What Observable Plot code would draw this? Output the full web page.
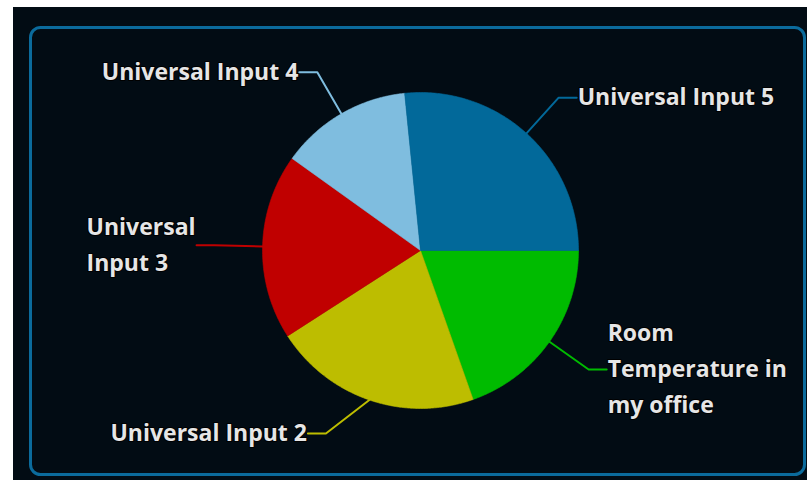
<!DOCTYPE html>
<html><head><meta charset="utf-8">
<script src="https://cdn.jsdelivr.net/npm/d3@7"></script>
<script src="https://cdn.jsdelivr.net/npm/@observablehq/plot@0.6"></script>
<style>
html,body{margin:0;padding:0;background:#fff;}
#wrap{position:relative;width:807px;height:480px;overflow:hidden;}
#panel{position:absolute;left:13px;top:7px;right:0;bottom:0;background:#020c14;}
#chart{position:absolute;left:0;top:0;}
</style></head><body>
<div id="wrap"><div id="panel"></div><div id="chart"></div></div>
<script>
// ---- data ----
const categories = ["Room Temperature in my office", "Universal Input 2", "Universal Input 3", "Universal Input 4", "Universal Input 5"];
const values = [19.6, 21.3, 19.0, 13.5, 26.6];
const labelTexts = ["Room\nTemperature in\nmy office", "Universal Input 2", "Universal\nInput 3", "Universal Input 4", "Universal Input 5"];
const colors = ["#00bb00", "#bdbd00", "#c00000", "#7fbddf", "#02699a"];

// ---- layout ----
const W = 807, H = 480, cx = 420, cy = 250, r = 158;
const mL = 30, mT = 27, mR = 3, mB = 6;
const toX = px => (px - cx) / r;
const toY = py => (cy - py) / r;
const fontSize = 23, fontWeight = 700, fontFamily = "'Open Sans', sans-serif";

const arcs = d3.pie().sort(null).value(d => d)
  .startAngle(Math.PI / 2).endAngle(Math.PI / 2 + 2 * Math.PI)(values);

const slices = [];
arcs.forEach((a, i) => {
  const name = categories[i];
  slices.push({name, x: 0, y: 0});
  const n = Math.max(2, Math.ceil((a.endAngle - a.startAngle) / 0.01));
  for (let k = 0; k <= n; k++) {
    const t = a.startAngle + (a.endAngle - a.startAngle) * k / n;
    slices.push({name, x: Math.sin(t), y: Math.cos(t)});
  }
  slices.push({name, x: 0, y: 0});
});

const ctx = document.createElement("canvas").getContext("2d");
ctx.font = `${fontWeight} ${fontSize}px ${fontFamily}`;

const R2 = 206 / r, pad = 18 / r, yLim = 183 / r;
const connectors = [], labels = [];
arcs.forEach((a, i) => {
  const name = categories[i];
  const m = (a.startAngle + a.endAngle) / 2;
  const sx = Math.sin(m), sy = Math.cos(m);
  const ey = Math.max(-yLim, Math.min(yLim, R2 * Math.cos(m)));
  const side = sx >= 0 ? 1 : -1;
  const ex = side * Math.sqrt(R2 * R2 - ey * ey);
  const lx = ex + side * pad;
  connectors.push({name, x: sx, y: sy}, {name, x: ex, y: ey}, {name, x: lx, y: ey});
  const w = d3.max(labelTexts[i].split("\n"), s => ctx.measureText(s).width) / r;
  labels.push({name, text: labelTexts[i], x: side > 0 ? lx + 1 / r : lx - 1 / r - w, y: ey});
});

const chart = Plot.plot({
  width: W, height: H,
  marginLeft: mL, marginTop: mT, marginRight: mR, marginBottom: mB,
  x: {domain: [toX(mL), toX(W - mR)], axis: null},
  y: {domain: [toY(H - mB), toY(mT)], axis: null},
  color: {domain: categories, range: colors},
  style: {background: "transparent", fontFamily, overflow: "visible"},
  marks: [
    Plot.frame({stroke: "#0b6b9c", strokeWidth: 3, rx: 10}),
    Plot.line(slices, {x: "x", y: "y", z: "name", fill: "name", stroke: "name", strokeWidth: 0.6, curve: "linear"}),
    Plot.line(connectors, {x: "x", y: "y", z: "name", stroke: "name", strokeWidth: 2}),
    Plot.text(labels, {x: "x", y: "y", text: "text", textAnchor: "start", lineAnchor: "middle",
      lineHeight: 36 / 23, dy: -4, fill: "#e6e6e6", stroke: "#000", strokeWidth: 2, paintOrder: "stroke",
      fontSize, fontWeight})
  ]
});
document.getElementById("chart").appendChild(chart);
</script>
</body></html>
